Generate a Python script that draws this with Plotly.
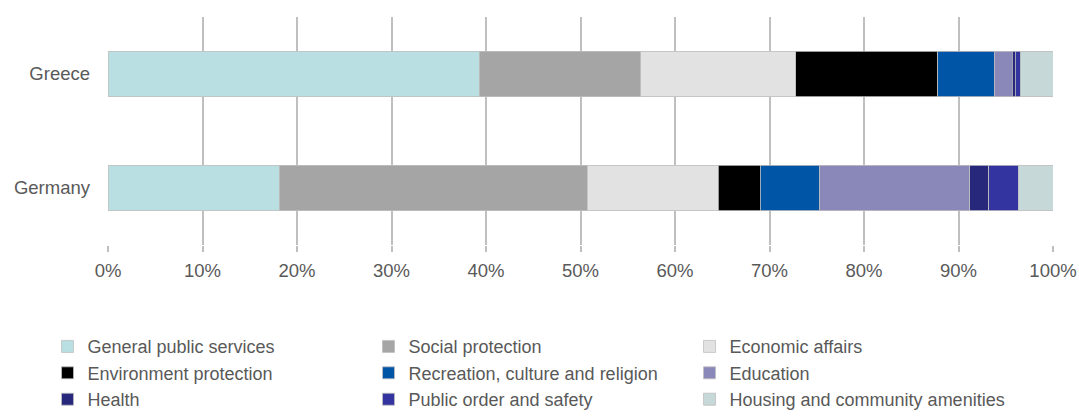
import plotly.graph_objects as go

countries = ["Greece", "Germany"]
categories = [
    "General public services", "Social protection", "Economic affairs",
    "Environment protection", "Recreation, culture and religion", "Education",
    "Health", "Public order and safety", "Housing and community amenities",
]
greece = [39.3, 17.1, 16.4, 15.0, 6.0, 1.9, 0.3, 0.6, 3.4]
germany = [18.1, 32.6, 13.9, 4.4, 6.3, 15.9, 2.0, 3.1, 3.7]
colors = ["#BADFE2", "#A5A5A5", "#E2E2E2", "#000000", "#0055A6",
          "#8A88B8", "#27287C", "#3434A0", "#C6D8D7"]
tick_vals = [0, 10, 20, 30, 40, 50, 60, 70, 80, 90, 100]
tick_text = [f"{v}%" for v in tick_vals]

fig = go.Figure()
for i, cat in enumerate(categories):
    fig.add_trace(go.Bar(
        y=countries, x=[greece[i], germany[i]], name=cat, orientation="h",
        marker=dict(color=colors[i], line=dict(color="#BFBFBF", width=0.8)),
    ))

fig.update_layout(
    barmode="stack",
    bargap=0.6,
    width=1079, height=416,
    margin=dict(l=108, r=26, t=17, b=171, autoexpand=False),
    plot_bgcolor="white", paper_bgcolor="white",
    font=dict(family="Liberation Sans, Arial, sans-serif", size=18.5, color="#595959"),
    xaxis=dict(range=[0, 100], tickvals=tick_vals, ticktext=tick_text,
               showgrid=True, gridcolor="#BFBFBF", gridwidth=1.5,
               zeroline=False, showline=False, ticks="outside", ticklen=6,
               tickcolor="#BFBFBF", tickwidth=1.5, ticklabelstandoff=3),
    yaxis=dict(autorange="reversed", showgrid=False, zeroline=False,
               ticklabelstandoff=17),
    legend=dict(orientation="h", x=-0.064, xanchor="left", y=-0.365, yanchor="top",
                entrywidth=276, entrywidthmode="pixels", traceorder="normal",
                font=dict(size=18, color="#595959"), itemwidth=30),
    showlegend=True,
)
fig.write_html(
    "out.html",
    config={"displayModeBar": False},
    post_script="document.body.style.margin='0';document.body.style.overflow='hidden';",
)
